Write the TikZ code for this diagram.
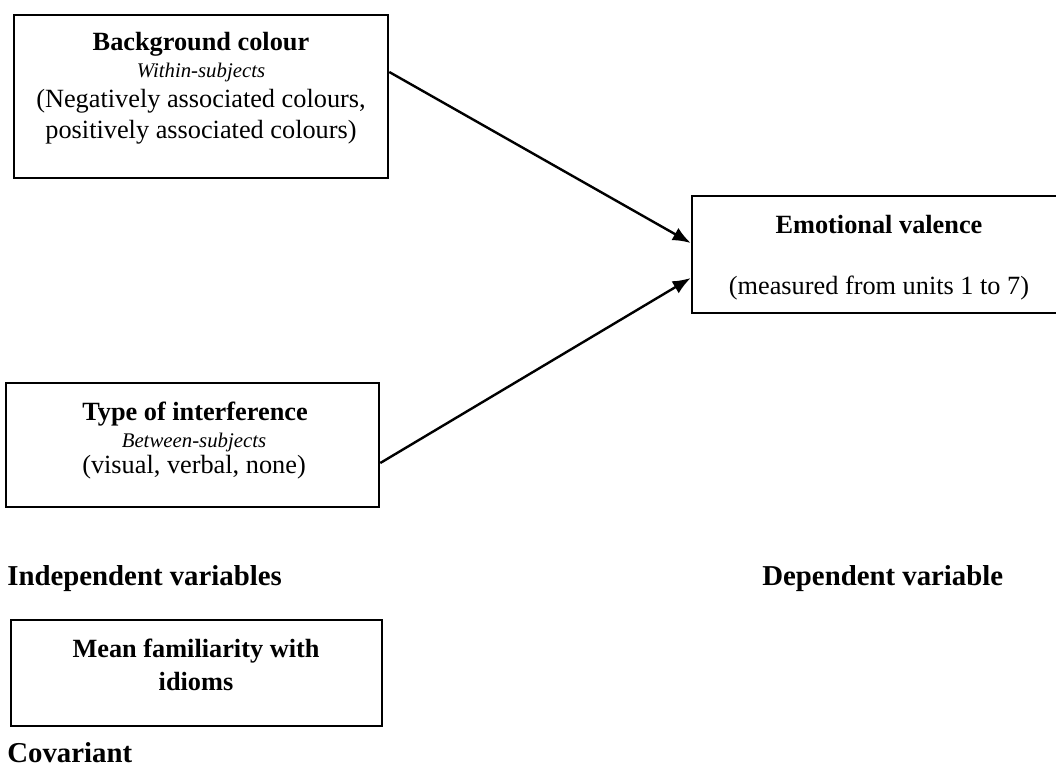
\documentclass[tikz,border=0pt]{standalone}
\usepackage{fontspec}
\setmainfont{Liberation Serif}
\usetikzlibrary{arrows.meta}
\tikzset{
  box/.style={draw, line width=1.3pt, inner sep=0pt},
  ttl/.style={anchor=base, inner sep=0pt, font=\fontsize{13.15pt}{15pt}\selectfont\bfseries},
  sub/.style={anchor=base, inner sep=0pt, font=\fontsize{10.4pt}{12pt}\selectfont\itshape},
  txt/.style={anchor=base, inner sep=0pt, font=\fontsize{13.15pt}{15pt}\selectfont},
  lab/.style={anchor=base west, inner sep=0pt, font=\fontsize{14.4pt}{17pt}\selectfont\bfseries},
  arr/.style={line width=1.2pt, -{Latex[length=9pt,width=7pt]}}
}
\begin{document}
\begin{tikzpicture}[x=0.5pt,y=-0.5pt]
\clip (0,0) rectangle (1056,767);
\fill[white] (0,0) rectangle (1056,767);
% boxes
\node[box, minimum width=187pt, minimum height=81.5pt] (b1) at (201,96.5) {};
\node[box, minimum width=187pt, minimum height=58.5pt] (b2) at (879,254.5) {};
\node[box, minimum width=186.5pt, minimum height=62pt] (b3) at (192.5,445) {};
\node[box, minimum width=185.5pt, minimum height=53pt] (b4) at (196.5,673) {};
% box 1 text
\node[ttl] (t1a) at (201,50) {Background colour};
\node[sub] (t1b) at (201,77) {Within-subjects};
\node[txt] (t1c) at (201,107) {(Negatively associated colours,};
\node[txt] (t1d) at (201,138) {positively associated colours)};
% box 2 text
\node[ttl] (t2a) at (879,233) {Emotional valence};
\node[txt] (t2b) at (879,294) {(measured from units 1 to 7)};
% box 3 text
\node[ttl] (t3a) at (195,420) {Type of interference};
\node[sub] (t3b) at (194,447) {Between-subjects};
\node[txt] (t3c) at (194,473) {(visual, verbal, none)};
% box 4 text
\node[ttl] (t4a) at (196,657) {Mean familiarity with};
\node[ttl] (t4b) at (196,690) {idioms};
% labels
\node[lab] (l1) at (7,585) {Independent variables};
\node[lab] (l2) at (762,585) {Dependent variable};
\node[lab] (l3) at (7,762) {Covariant};
% arrows
\draw[arr] ([yshift=12.25pt]b1.east) -- ([yshift=5.75pt]b2.west);
\draw[arr] ([yshift=-9pt]b3.east) -- ([yshift=-11.75pt]b2.west);
\end{tikzpicture}
\end{document}
